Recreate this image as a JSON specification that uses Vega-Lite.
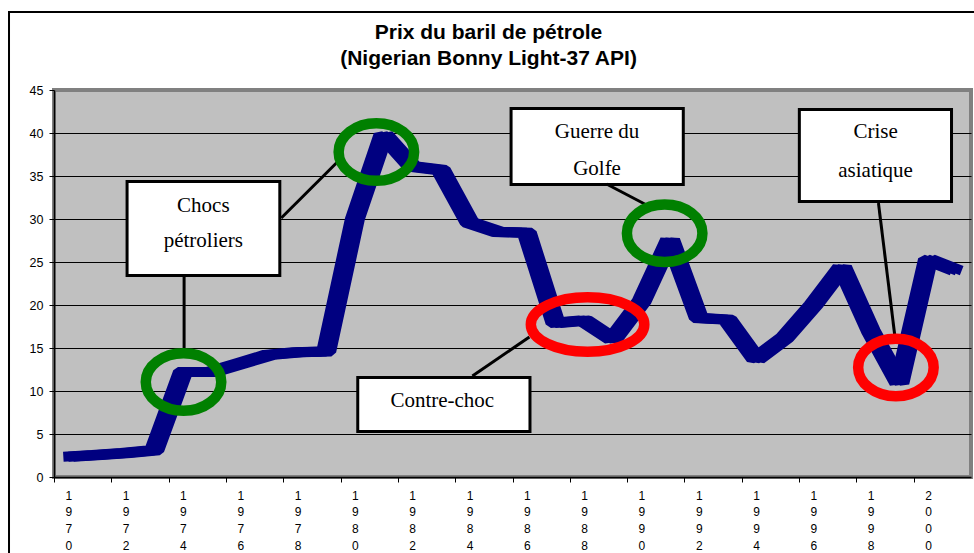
{
  "$schema": "https://vega.github.io/schema/vega-lite/v6.json",
  "width": 917,
  "height": 387,
  "autosize": {"type": "none"},
  "padding": {"left": 54, "top": 90, "right": 3, "bottom": 76},
  "background": "white",
  "config": {
    "view": {"fill": "#c0c0c0", "stroke": "#808080", "strokeWidth": 4},
    "font": "Liberation Sans"
  },
  "title": {
    "text": ["Prix du baril de pétrole", "(Nigerian Bonny Light-37 API)"],
    "font": "Liberation Sans",
    "fontSize": 21,
    "fontWeight": "bold",
    "lineHeight": 26,
    "color": "black",
    "anchor": "middle",
    "dx": -24,
    "offset": 0,
    "dy": 58
  },
  "datasets": {
    "prices": [
      {"year": 1970, "price": 2.35},
      {"year": 1971, "price": 2.55},
      {"year": 1972, "price": 2.8},
      {"year": 1973, "price": 3.1},
      {"year": 1974, "price": 12.2},
      {"year": 1975, "price": 12.2},
      {"year": 1976, "price": 13.2},
      {"year": 1977, "price": 14.2},
      {"year": 1978, "price": 14.5},
      {"year": 1979, "price": 14.6},
      {"year": 1980, "price": 30.0},
      {"year": 1981, "price": 39.8},
      {"year": 1982, "price": 36.1},
      {"year": 1983, "price": 35.7},
      {"year": 1984, "price": 29.6},
      {"year": 1985, "price": 28.5},
      {"year": 1986, "price": 28.4},
      {"year": 1987, "price": 17.9},
      {"year": 1988, "price": 18.2},
      {"year": 1989, "price": 16.0},
      {"year": 1990, "price": 20.4},
      {"year": 1991, "price": 27.6},
      {"year": 1992, "price": 18.5},
      {"year": 1993, "price": 18.3},
      {"year": 1994, "price": 13.7},
      {"year": 1995, "price": 16.2},
      {"year": 1996, "price": 20.0},
      {"year": 1997, "price": 24.4},
      {"year": 1998, "price": 17.0},
      {"year": 1999, "price": 10.9},
      {"year": 2000, "price": 25.3},
      {"year": 2001, "price": 24.0}
    ],
    "frame": [
      {"x1": 1967.93, "x2": 2002.3, "y1": 54.07, "y2": -14}
    ],
    "boxes": [
      {"x1": 1972.05, "x2": 1977.38, "y1": 34.36, "y2": 23.43},
      {"x1": 1980.10, "x2": 1986.11, "y1": 11.57, "y2": 5.29},
      {"x1": 1985.45, "x2": 1991.46, "y1": 42.85, "y2": 34.01},
      {"x1": 1995.51, "x2": 2000.82, "y1": 42.73, "y2": 32.03}
    ],
    "labels": [
      {"x": 1974.71, "y": 30.85, "text": "Chocs"},
      {"x": 1974.71, "y": 26.78, "text": "pétroliers"},
      {"x": 1983.05, "y": 8.17, "text": "Contre-choc"},
      {"x": 1988.45, "y": 39.38, "text": "Guerre du"},
      {"x": 1988.45, "y": 35.12, "text": "Golfe"},
      {"x": 1998.17, "y": 39.38, "text": "Crise"},
      {"x": 1998.17, "y": 34.92, "text": "asiatique"}
    ],
    "connectors": [
      {"x1": 1974.04, "x2": 1974.04, "y1": 23.26, "y2": 14.30},
      {"x1": 1977.43, "x2": 1979.46, "y1": 30.12, "y2": 36.86},
      {"x1": 1984.10, "x2": 1986.09, "y1": 11.74, "y2": 16.28},
      {"x1": 1988.78, "x2": 1990.18, "y1": 34.07, "y2": 31.63},
      {"x1": 1998.27, "x2": 1998.86, "y1": 31.86, "y2": 15.93}
    ],
    "rings": [
      {"x": 1974.02, "y": 11.05, "color": "#008000"},
      {"x": 1980.75, "y": 37.79, "color": "#008000"},
      {"x": 1990.81, "y": 28.34, "color": "#008000"},
      {"x": 1998.88, "y": 12.74, "color": "#ff0000"}
    ],
    "wideRings": [
      {"x": 1988.12, "y": 17.73, "color": "#ff0000"}
    ]
  },
  "layer": [
    {
      "data": {"name": "prices"},
      "mark": {"type": "line", "color": "#000080", "strokeWidth": 10, "strokeJoin": "bevel", "xOffset": 0},
      "encoding": {
        "x": {
          "field": "year", "type": "quantitative",
          "scale": {"domain": [1969.5, 2001.5], "nice": false, "zero": false},
          "title": null,
          "axis": {
            "values": [1969.5, 1970.5, 1971.5, 1972.5, 1973.5, 1974.5, 1975.5, 1976.5, 1977.5, 1978.5, 1979.5, 1980.5, 1981.5, 1982.5, 1983.5, 1984.5, 1985.5, 1986.5, 1987.5, 1988.5, 1989.5, 1990.5, 1991.5, 1992.5, 1993.5, 1994.5, 1995.5, 1996.5, 1997.5, 1998.5, 1999.5, 2000.5],
            "labelExpr": "((datum.value + 0.5) % 2 == 0) ? split(toString(datum.value + 0.5), '') : ''",
            "labelOffset": 14.3,
            "labelLineHeight": 16.7,
            "labelFont": "Liberation Sans",
            "labelFontSize": 12,
            "labelColor": "black",
            "labelAngle": 0,
            "labelAlign": "center",
            "labelBaseline": "top",
            "labelPadding": 8,
            "labelOverlap": false,
            "labelBound": false,
            "labelFlush": false,
            "tickColor": "black",
            "tickSize": 5,
            "tickWidth": 1,
            "domainColor": "black",
            "domainWidth": 1.5,
            "grid": false,
            "title": null
          }
        },
        "y": {
          "field": "price", "type": "quantitative",
          "scale": {"domain": [0, 45], "nice": false, "zero": false},
          "title": null,
          "axis": {
            "values": [0, 5, 10, 15, 20, 25, 30, 35, 40, 45],
            "grid": true,
            "gridColor": "black",
            "gridWidth": 1.2,
            "gridOpacity": {"condition": {"test": "datum.value == 0 || datum.value == 45", "value": 0}, "value": 1},
            "tickColor": "black",
            "tickSize": 5,
            "domainColor": "black",
            "domainWidth": 1.5,
            "labelFont": "Liberation Sans",
            "labelFontSize": 12.5,
            "labelColor": "black",
            "labelPadding": 6,
            "title": null
          }
        }
      }
    },
    {
      "data": {"name": "prices"},
      "mark": {"type": "line", "color": "#000080", "strokeWidth": 10, "strokeJoin": "bevel", "xOffset": -5},
      "encoding": {
        "x": {"field": "year", "type": "quantitative", "scale": {"domain": [1969.5, 2001.5], "nice": false, "zero": false}, "title": null},
        "y": {"field": "price", "type": "quantitative", "scale": {"domain": [0, 45], "nice": false, "zero": false}, "title": null}
      }
    },
    {
      "data": {"name": "prices"},
      "mark": {"type": "line", "color": "#000080", "strokeWidth": 10, "strokeJoin": "bevel", "xOffset": 5},
      "encoding": {
        "x": {"field": "year", "type": "quantitative", "scale": {"domain": [1969.5, 2001.5], "nice": false, "zero": false}, "title": null},
        "y": {"field": "price", "type": "quantitative", "scale": {"domain": [0, 45], "nice": false, "zero": false}, "title": null}
      }
    },
    {
      "data": {"name": "boxes"},
      "mark": {"type": "rect", "fill": "white", "stroke": "black", "strokeWidth": 3},
      "encoding": {
        "x": {"field": "x1", "type": "quantitative", "scale": {"domain": [1969.5, 2001.5], "nice": false, "zero": false}, "title": null},
        "x2": {"field": "x2"},
        "y": {"field": "y1", "type": "quantitative", "scale": {"domain": [0, 45], "nice": false, "zero": false}, "title": null},
        "y2": {"field": "y2"}
      }
    },
    {
      "data": {"name": "labels"},
      "mark": {"type": "text", "font": "Liberation Serif", "fontSize": 21, "color": "black", "align": "center", "baseline": "alphabetic"},
      "encoding": {
        "x": {"field": "x", "type": "quantitative", "scale": {"domain": [1969.5, 2001.5], "nice": false, "zero": false}, "title": null},
        "y": {"field": "y", "type": "quantitative", "scale": {"domain": [0, 45], "nice": false, "zero": false}, "title": null},
        "text": {"field": "text"}
      }
    },
    {
      "data": {"name": "connectors"},
      "mark": {"type": "rule", "color": "black", "strokeWidth": 3},
      "encoding": {
        "x": {"field": "x1", "type": "quantitative", "scale": {"domain": [1969.5, 2001.5], "nice": false, "zero": false}, "title": null},
        "x2": {"field": "x2"},
        "y": {"field": "y1", "type": "quantitative", "scale": {"domain": [0, 45], "nice": false, "zero": false}, "title": null},
        "y2": {"field": "y2"}
      }
    },
    {
      "data": {"name": "rings"},
      "mark": {"type": "point", "filled": false, "strokeWidth": 10.5, "opacity": 1, "size": 5700, "shape": "M -1 0 A 1 0.7616 0 1 1 1 0 A 1 0.7616 0 1 1 -1 0 Z"},
      "encoding": {
        "x": {"field": "x", "type": "quantitative", "scale": {"domain": [1969.5, 2001.5], "nice": false, "zero": false}, "title": null},
        "y": {"field": "y", "type": "quantitative", "scale": {"domain": [0, 45], "nice": false, "zero": false}, "title": null},
        "stroke": {"field": "color", "type": "nominal", "scale": null, "legend": null}
      }
    },
    {
      "data": {"name": "wideRings"},
      "mark": {"type": "point", "filled": false, "strokeWidth": 10.5, "opacity": 1, "size": 12882, "shape": "M -1 0 A 1 0.48 0 1 1 1 0 A 1 0.48 0 1 1 -1 0 Z"},
      "encoding": {
        "x": {"field": "x", "type": "quantitative", "scale": {"domain": [1969.5, 2001.5], "nice": false, "zero": false}, "title": null},
        "y": {"field": "y", "type": "quantitative", "scale": {"domain": [0, 45], "nice": false, "zero": false}, "title": null},
        "stroke": {"field": "color", "type": "nominal", "scale": null, "legend": null}
      }
    },
    {
      "data": {"name": "frame"},
      "mark": {"type": "rect", "filled": false, "stroke": "black", "strokeWidth": 2},
      "encoding": {
        "x": {"field": "x1", "type": "quantitative", "scale": {"domain": [1969.5, 2001.5], "nice": false, "zero": false}, "title": null},
        "x2": {"field": "x2"},
        "y": {"field": "y1", "type": "quantitative", "scale": {"domain": [0, 45], "nice": false, "zero": false}, "title": null},
        "y2": {"field": "y2"}
      }
    }
  ]
}
